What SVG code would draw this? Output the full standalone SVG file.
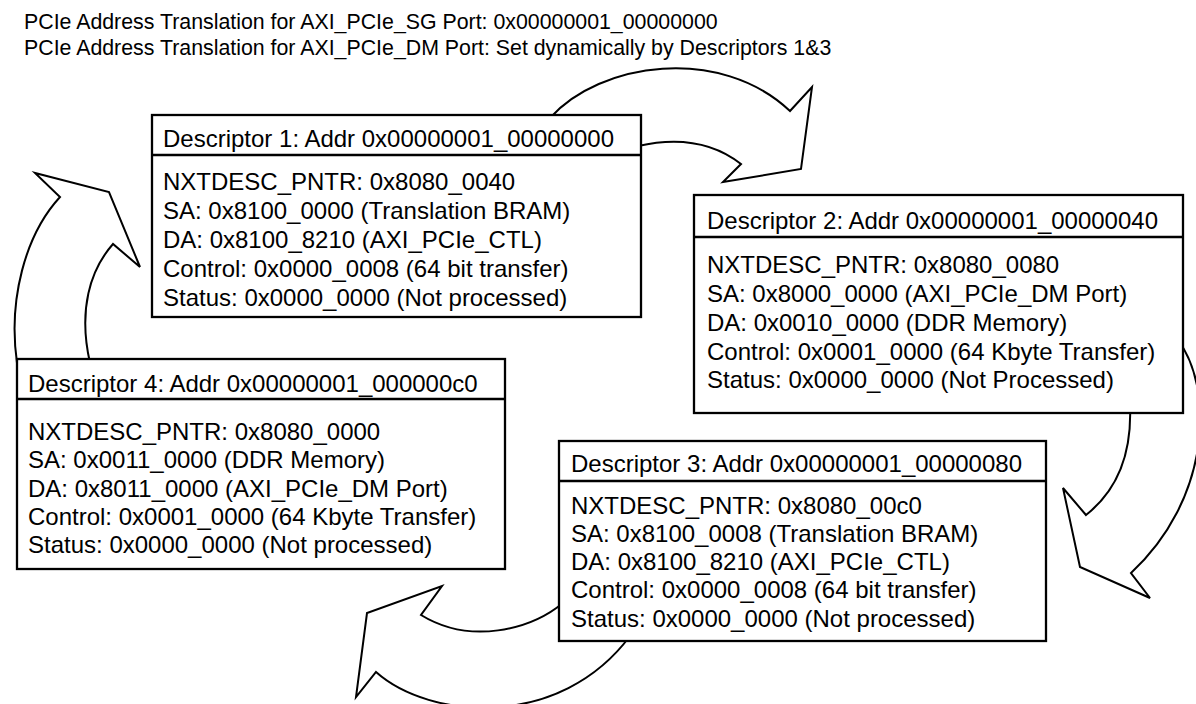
<svg xmlns="http://www.w3.org/2000/svg" width="1196" height="704" viewBox="0 0 1196 704">
<style>
.t{font-family:"Liberation Sans",Arial,sans-serif;font-size:24px;fill:#000}
.ti{font-family:"Liberation Sans",Arial,sans-serif;font-size:21.33px;fill:#000}
.arr{fill:#fff;stroke:#000;stroke-width:2;stroke-linejoin:miter}
.box{fill:#fff;stroke:#000;stroke-width:2.3}
.div{stroke:#000;stroke-width:2.3}
</style>
<rect width="1196" height="704" fill="#fff"/>
<g id="title">
<text class="ti" x="24" y="29">PCIe Address Translation for AXI_PCIe_SG Port: 0x00000001_00000000</text>
<text class="ti" x="24" y="55">PCIe Address Translation for AXI_PCIe_DM Port: Set dynamically by Descriptors 1&amp;3</text>
</g>
<g id="connectors">
<path class="arr" d="M550,118 C600,62 720,45 790,111 L812,87 L801,169 L723,182 L741,164 Q700,132 638,146 L620,140 Z"/>
<path class="arr" d="M1178,340 C1215,390 1210,500 1131,573 L1150,598 L1080,567 L1063,488 L1086,515 Q1133,478 1130,406 L1170,406 Z"/>
<path class="arr" d="M563,603 C530,630 470,645 421,615 L442,586 L367,613 L356,697 L376,672 C430,720 560,730 630,636 Z"/>
<path class="arr" d="M17,363 C8,300 25,235 60,197 L35,173 L109,192 L140,267 L113,244 C90,270 78,310 90,363 Z"/>
</g>
<g id="desc1">
<rect class="box" x="152" y="115" width="489" height="202"/>
<line class="div" x1="152" y1="155" x2="641" y2="155"/>
<text class="t" x="163" y="147">Descriptor 1: Addr 0x00000001_00000000</text>
<text class="t" x="163" y="190">NXTDESC_PNTR: 0x8080_0040</text>
<text class="t" x="163" y="219">SA: 0x8100_0000 (Translation BRAM)</text>
<text class="t" x="163" y="248">DA: 0x8100_8210 (AXI_PCIe_CTL)</text>
<text class="t" x="163" y="277">Control: 0x0000_0008 (64 bit transfer)</text>
<text class="t" x="163" y="306">Status: 0x0000_0000 (Not processed)</text>
</g>
<g id="desc2">
<rect class="box" x="694" y="195" width="489" height="218"/>
<line class="div" x1="694" y1="237" x2="1183" y2="237"/>
<text class="t" x="707" y="229">Descriptor 2: Addr 0x00000001_00000040</text>
<text class="t" x="707" y="273">NXTDESC_PNTR: 0x8080_0080</text>
<text class="t" x="707" y="302">SA: 0x8000_0000 (AXI_PCIe_DM Port)</text>
<text class="t" x="707" y="331">DA: 0x0010_0000 (DDR Memory)</text>
<text class="t" x="707" y="360">Control: 0x0001_0000 (64 Kbyte Transfer)</text>
<text class="t" x="707" y="388">Status: 0x0000_0000 (Not Processed)</text>
</g>
<g id="desc4">
<rect class="box" x="17" y="359" width="488" height="210"/>
<line class="div" x1="17" y1="399" x2="505" y2="399"/>
<text class="t" x="28" y="392">Descriptor 4: Addr 0x00000001_000000c0</text>
<text class="t" x="28" y="440">NXTDESC_PNTR: 0x8080_0000</text>
<text class="t" x="28" y="468">SA: 0x0011_0000 (DDR Memory)</text>
<text class="t" x="28" y="497">DA: 0x8011_0000 (AXI_PCIe_DM Port)</text>
<text class="t" x="28" y="525">Control: 0x0001_0000 (64 Kbyte Transfer)</text>
<text class="t" x="28" y="553">Status: 0x0000_0000 (Not processed)</text>
</g>
<g id="desc3">
<rect class="box" x="559" y="441" width="487" height="200"/>
<line class="div" x1="559" y1="481" x2="1046" y2="481"/>
<text class="t" x="571" y="472">Descriptor 3: Addr 0x00000001_00000080</text>
<text class="t" x="571" y="514">NXTDESC_PNTR: 0x8080_00c0</text>
<text class="t" x="571" y="542">SA: 0x8100_0008 (Translation BRAM)</text>
<text class="t" x="571" y="570">DA: 0x8100_8210 (AXI_PCIe_CTL)</text>
<text class="t" x="571" y="598">Control: 0x0000_0008 (64 bit transfer)</text>
<text class="t" x="571" y="627">Status: 0x0000_0000 (Not processed)</text>
</g>
</svg>
